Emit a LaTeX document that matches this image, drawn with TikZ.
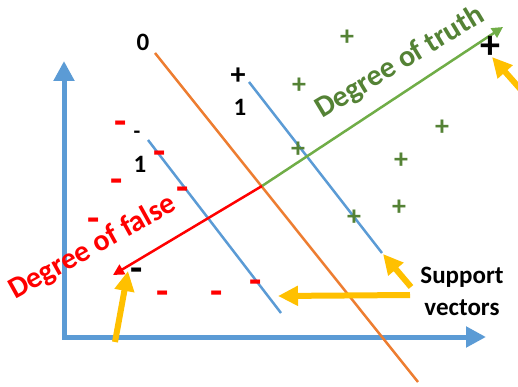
\documentclass[tikz,border=0pt]{standalone}
\usepackage{fontspec}
\setmainfont{Carlito}
\usetikzlibrary{arrows.meta}
\definecolor{axisblue}{HTML}{5B9BD5}
\definecolor{hyporange}{HTML}{ED7D31}
\definecolor{truegreen}{HTML}{70AD47}
\definecolor{truetext}{HTML}{548235}
\definecolor{supyellow}{HTML}{FFC000}
\begin{document}
\begin{tikzpicture}[x=1pt,y=-1pt,
  axisline/.style={draw=axisblue, line width=5pt, line join=miter,
    {Triangle[length=20pt,width=20pt]}-{Triangle[length=20pt,width=20pt]}},
  marginline/.style={draw=axisblue, line width=2.5pt},
  hyperline/.style={draw=hyporange, line width=2.5pt},
  truearrow/.style={draw=truegreen, line width=2.5pt, -{Triangle[length=11pt,width=11pt]}},
  falsearrow/.style={draw=red, line width=2.5pt, -{Triangle[length=11pt,width=11pt]}},
  suparrow/.style={draw=supyellow, line width=6pt, -{Triangle[length=20pt,width=19pt]}},
  lbl/.style={inner sep=0pt, font=\bfseries\fontsize{25}{30}\selectfont},
  plusmark/.style={inner sep=0pt, text=truetext, font=\bfseries\fontsize{28}{30}\selectfont},
  minusmark/.style={inner sep=0pt, text=red, font=\bfseries\fontsize{40}{40}\selectfont},
  degtext/.style={inner sep=0pt, anchor=base west, font=\bfseries\fontsize{30}{34}\selectfont}
]
\useasboundingbox (0,0) rectangle (518,387);
\clip (0,0) rectangle (518,387);
% axes
\coordinate (O) at (64,337);
\coordinate (Ytip) at (64,61);
\coordinate (Xtip) at (486,337);
\draw[axisline] (Ytip) -- (O) -- (Xtip);
% hyperplane and margins
\coordinate (h0) at (155,53);
\coordinate (h1) at (418,382);
\coordinate (p0) at (249,82);
\coordinate (p1) at (382,253);
\coordinate (m0) at (148,140);
\coordinate (m1) at (281,313);
\draw[hyperline] (h0) -- (h1);
\draw[marginline] (p0) -- (p1);
\draw[marginline] (m0) -- (m1);
% degree arrows
\coordinate (C) at (262,186);
\coordinate (T) at (503,27);
\coordinate (F) at (113,275);
\draw[truearrow] (C) -- (T);
\draw[falsearrow] (C) -- (F);
\node[degtext, rotate=31, text=truetext] (dtruth) at (322,119) {Degree of truth};
\node[degtext, rotate=29, text=red] (dfalse) at (15,300) {Degree of false};
% labels
\node[lbl] (zero) at (143,42) {0};
\node[lbl, font=\bfseries\fontsize{30}{30}\selectfont] (plusone) at (238,76) {+};
\node[lbl] (one1) at (240,107) {1};
\node[lbl, font=\bfseries\fontsize{22}{30}\selectfont] (minusone) at (137,135) {-};
\node[lbl] (one2) at (140,164) {1};
% positive samples
\node[plusmark] (g1) at (347,38) {+};
\node[plusmark] (g2) at (299,86) {+};
\node[plusmark] (g3) at (298,150) {+};
\node[plusmark] (g4) at (442,128) {+};
\node[plusmark] (g5) at (401,161) {+};
\node[plusmark] (g6) at (399,208) {+};
\node[plusmark] (g7) at (354,218) {+};
\node[plusmark, text=black, font=\bfseries\fontsize{40}{40}\selectfont] (bplus) at (490,47) {+};
% negative samples
\node[minusmark] (r1) at (121,128) {-};
\node[minusmark] (r2) at (160,158) {-};
\node[minusmark] (r3) at (117,186) {-};
\node[minusmark] (r4) at (183,194) {-};
\node[minusmark] (r5) at (94,225) {-};
\node[minusmark] (r6) at (163,298) {-};
\node[minusmark] (r7) at (217,298) {-};
\node[minusmark] (r8) at (256,287) {-};
\node[minusmark, text=black] (bminus) at (137,275) {-};
% support vectors
\node[lbl, align=center, font=\bfseries\fontsize{25}{32}\selectfont] (sv) at (462,291) {Support\\vectors};
\coordinate (y1s) at (530,100);
\coordinate (y1e) at (492,57);
\coordinate (y2s) at (115,342);
\coordinate (y2e) at (128,271);
\coordinate (y3s) at (411,287);
\coordinate (y3e) at (383,254);
\coordinate (y4s) at (410,295);
\coordinate (y4e) at (278,296);
\draw[suparrow] (y1s) -- (y1e);
\draw[suparrow] (y2s) -- (y2e);
\draw[suparrow] (y3s) -- (y3e);
\draw[suparrow] (y4s) -- (y4e);
\end{tikzpicture}
\end{document}
